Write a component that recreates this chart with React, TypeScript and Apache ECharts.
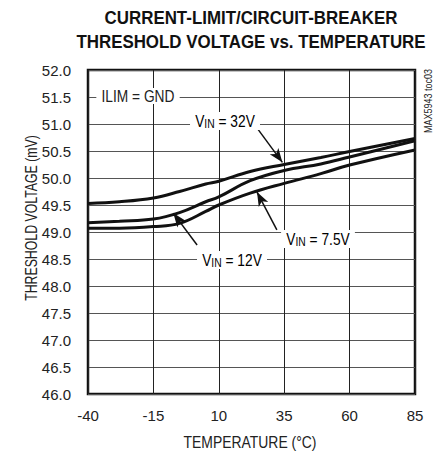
import React, { useEffect, useRef } from "react";
import * as echarts from "echarts";

const temps = [-40, -28, -15, -5, 5, 10, 22, 35, 49, 60, 85];
const vin32 = [49.53, 49.56, 49.63, 49.75, 49.89, 49.94, 50.12, 50.25, 50.38, 50.49, 50.73];
const vin12 = [49.17, 49.2, 49.24, 49.36, 49.56, 49.65, 49.95, 50.14, 50.26, 50.39, 50.69];
const vin75 = [49.07, 49.07, 49.1, 49.16, 49.38, 49.5, 49.72, 49.9, 50.08, 50.24, 50.52];
const xTicks = [-40, -15, 10, 35, 60, 85];
const yTicks = [46, 46.5, 47, 47.5, 48, 48.5, 49, 49.5, 50, 50.5, 51, 51.5, 52];

const FONT = "'Liberation Sans', Arial, Helvetica, sans-serif";
const SX = 0.82;

export default function App() {
  const ref = useRef<HTMLDivElement>(null);
  useEffect(() => {
    const chart = echarts.init(ref.current!, undefined, { renderer: "svg" });
    const mk = (d: number[]) => temps.map((t, i) => [t, d[i]]);
    const lineStyle = { color: "#111", width: 3 };
    const rich = {
      v: { fontFamily: FONT, fontSize: 16, color: "#222", lineHeight: 18 },
      s: { fontFamily: FONT, fontSize: 12, color: "#222", verticalAlign: "bottom", lineHeight: 18, padding: [6, 0, 0, 0] },
    };
    const vinText = (val: string, x: number, y: number) => ({
      type: "text",
      x,
      y,
      z: 10,
      scaleX: 0.86,
      style: {
        text: `{v|V}{s|IN}{v| = ${val}}`,
        rich,
        backgroundColor: "#fff",
        padding: [0, 6, 0, 6],
        align: "center",
        verticalAlign: "middle",
      },
    });
    const arrow = (a: number[], b: number[]) => [
      { coord: a, symbol: "none" },
      { coord: b, symbol: "arrow", symbolSize: [8, 14] },
    ];
    const txt = (text: string, x: number, y: number, size: number, extra: any = {}) => ({
      type: "text",
      x,
      y,
      scaleX: SX,
      ...extra,
      style: {
        text,
        fontFamily: FONT,
        fontSize: size,
        fill: "#222",
        align: "center",
        verticalAlign: "middle",
        ...(extra.style || {}),
      },
    });
    chart.setOption({
      animation: false,
      grid: {
        left: 88,
        right: 24,
        top: 70,
        bottom: 64,
        show: true,
        borderColor: "#111",
        borderWidth: 2.5,
        backgroundColor: "transparent",
      },
      xAxis: {
        type: "value",
        min: xTicks[0],
        max: xTicks[xTicks.length - 1],
        interval: 25,
        axisLine: { show: false },
        axisTick: { show: false },
        splitLine: { show: true, lineStyle: { color: "#222", width: 1 } },
        axisLabel: { fontFamily: FONT, fontSize: 15, color: "#222", margin: 14 },
      },
      yAxis: {
        type: "value",
        min: yTicks[0],
        max: yTicks[yTicks.length - 1],
        interval: 0.5,
        axisLine: { show: false },
        axisTick: { show: false },
        splitLine: { show: true, lineStyle: { color: "#555", width: 1 } },
        axisLabel: {
          fontFamily: FONT,
          fontSize: 15,
          color: "#222",
          margin: 17,
          formatter: (v: number) => v.toFixed(1),
        },
      },
      graphic: [
        txt("CURRENT-LIMIT/CIRCUIT-BREAKER", 251, 18, 19, { scaleX: 0.89, style: { fontWeight: "bold", fill: "#111" } }),
        txt("THRESHOLD VOLTAGE vs. TEMPERATURE", 251, 42, 19, { scaleX: 0.89, style: { fontWeight: "bold", fill: "#111" } }),
        txt("TEMPERATURE (°C)", 250, 442, 17),
        txt("THRESHOLD VOLTAGE (mV)", 31, 218, 16, { rotation: Math.PI / 2, scaleX: 0.77 }),
        txt("MAX5943 toc03", 428, 101, 11, { rotation: Math.PI / 2 }),
        txt("ILIM = GND", 138, 96, 16, {
          z: 10,
          scaleX: 0.86,
          style: { backgroundColor: "#fff", padding: [0, 6, 0, 6] },
        }),
        vinText("32V", 225, 121),
        vinText("7.5V", 318, 239),
        vinText("12V", 232, 260),
      ],
      series: [
        {
          type: "line",
          name: "VIN = 32V",
          data: mk(vin32),
          smooth: 0.4,
          symbol: "none",
          lineStyle,
          markLine: {
            silent: true,
            animation: false,
            lineStyle: { color: "#111", width: 1.5, type: "solid" },
            label: { show: false },
            data: [
              arrow([23.8, 50.98], [34.3, 50.29]),
              arrow([32.2, 49.04], [24.6, 49.74]),
              arrow([1.7, 48.76], [-7.4, 49.35]),
            ],
          },
        },
        { type: "line", name: "VIN = 12V", data: mk(vin12), smooth: 0.4, symbol: "none", lineStyle },
        { type: "line", name: "VIN = 7.5V", data: mk(vin75), smooth: 0.4, symbol: "none", lineStyle },
      ],
    });
    return () => chart.dispose();
  }, []);
  return <div ref={ref} style={{ width: 439, height: 458, position: "absolute", left: 0, top: 0 }} />;
}
